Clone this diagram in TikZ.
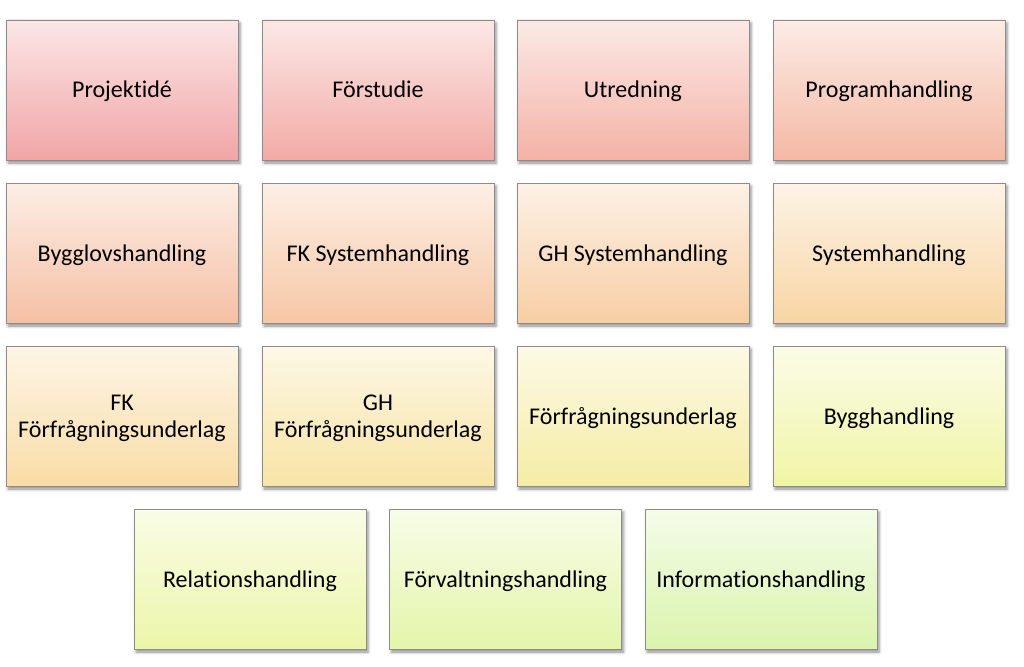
\documentclass[tikz,border=0pt]{standalone}
\usepackage{fontspec}
\setmainfont{Carlito}[Ligatures={NoCommon}]
\usetikzlibrary{shadows.blur}
\definecolor{c0}{RGB}{241,165,166}
\definecolor{c1}{RGB}{242,171,166}
\definecolor{c2}{RGB}{243,178,165}
\definecolor{c3}{RGB}{244,185,164}
\definecolor{c4}{RGB}{245,192,164}
\definecolor{c5}{RGB}{246,199,164}
\definecolor{c6}{RGB}{247,206,164}
\definecolor{c7}{RGB}{248,213,164}
\definecolor{c8}{RGB}{249,220,165}
\definecolor{c9}{RGB}{248,228,165}
\definecolor{c10}{RGB}{245,236,165}
\definecolor{c11}{RGB}{240,245,166}
\definecolor{c12}{RGB}{235,246,168}
\definecolor{c13}{RGB}{228,245,171}
\definecolor{c14}{RGB}{218,244,174}
\definecolor{edge}{RGB}{140,140,140}
\begin{document}
\begin{tikzpicture}[x=1pt,y=-1pt,
  bx/.style={draw=edge, line width=0.8pt, minimum width=232pt, minimum height=140pt,
    inner sep=0pt, align=center, font=\fontsize{24}{27}\selectfont, text=black,
    top color=#1!28!white, bottom color=#1,
    blur shadow={shadow xshift=2pt, shadow yshift=-3pt, shadow blur radius=3pt, shadow opacity=45}},
  oneline/.style={text height=20pt, text depth=4pt}]
\useasboundingbox (0,0) rectangle (1024,666);
\node[bx=c0, oneline] (n1) at (122,90) {Projektidé};
\node[bx=c1, oneline] (n2) at (378,90) {Förstudie};
\node[bx=c2, oneline] (n3) at (633,90) {Utredning};
\node[bx=c3, oneline] (n4) at (889,90) {Programhandling};
\node[bx=c4, oneline] (n5) at (122,253) {Bygglovshandling};
\node[bx=c5, oneline] (n6) at (378,253) {FK Systemhandling};
\node[bx=c6, oneline] (n7) at (633,253) {GH Systemhandling};
\node[bx=c7, oneline] (n8) at (889,253) {Systemhandling};
\node[bx=c8] (n9) at (122,416) {\rule{0pt}{20pt}FK\\Förfrågningsunderlag};
\node[bx=c9] (n10) at (378,416) {\rule{0pt}{20pt}GH\\Förfrågningsunderlag};
\node[bx=c10, oneline] (n11) at (633,416) {Förfrågningsunderlag};
\node[bx=c11, oneline] (n12) at (889,416) {Bygghandling};
\node[bx=c12, oneline] (n13) at (250,579) {Relationshandling};
\node[bx=c13, oneline] (n14) at (505.5,579) {Förvaltningshandling};
\node[bx=c14, oneline] (n15) at (761,579) {Informationshandling};
\end{tikzpicture}
\end{document}
